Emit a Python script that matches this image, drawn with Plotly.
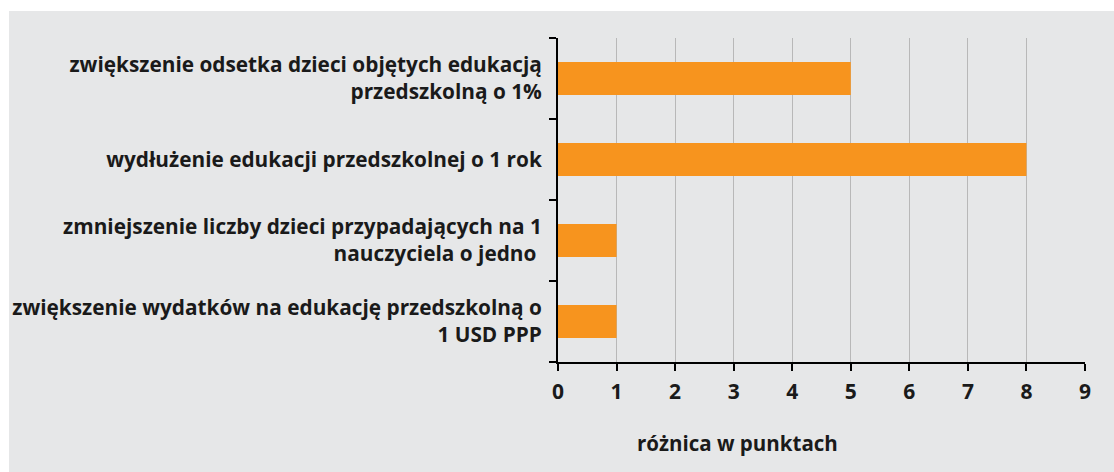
import plotly.graph_objects as go

# Effect of each pre-school measure, in points
categories = [
    "zwiększenie odsetka dzieci objętych edukacją<br>przedszkolną o 1%",
    "wydłużenie edukacji przedszkolnej o 1 rok",
    "zmniejszenie liczby dzieci przypadających na 1<br>nauczyciela o jedno ",
    "zwiększenie wydatków na edukację przedszkolną o<br>1 USD PPP",
]
values = [5, 8, 1, 1]
x_ticks = list(range(0, 10))
x_title = "różnica w punktach"

BG = "#e6e7e8"
ORANGE = "#f7941e"
FONT = "Open Sans"
TEXT = "#1a1a1a"

W, H = 1114, 472
ML, MR, MT, MB = 558, 29, 38, 110
PW, PH = W - ML - MR, H - MT - MB

fig = go.Figure(
    go.Bar(
        x=values,
        y=categories,
        orientation="h",
        marker=dict(color=ORANGE, line=dict(width=0)),
        width=0.41,
    )
)

# grey panel behind the chart, leaving a thin white strip at top and left
fig.add_shape(
    type="rect", xref="paper", yref="paper",
    x0=(9 - ML) / PW, x1=2, y0=-1, y1=1 + (MT - 11) / PH,
    fillcolor=BG, line=dict(width=0), layer="below",
)

fig.add_annotation(
    text=x_title, xref="paper", yref="paper",
    x=(737.5 - ML) / PW, y=-(443 - (H - MB)) / PH,
    showarrow=False, xanchor="center", yanchor="middle",
    font=dict(family=FONT, size=20.5, color=TEXT, weight="bold"),
)

fig.update_layout(
    width=W, height=H,
    margin=dict(l=ML, r=MR, t=MT, b=MB, pad=0),
    paper_bgcolor="white",
    plot_bgcolor=BG,
    showlegend=False,
    font=dict(family=FONT, color=TEXT),
    bargap=0.59,
)

fig.update_xaxes(
    range=[0, 9],
    tickvals=x_ticks,
    showgrid=True, gridcolor="#b8b8b8", gridwidth=1,
    showline=True, linecolor="black", linewidth=2,
    ticks="outside", ticklen=7, tickwidth=2, tickcolor="black",
    tickfont=dict(family=FONT, size=21, color=TEXT, weight="bold"),
    ticklabelstandoff=3,
    zeroline=False,
    fixedrange=True,
)

fig.update_yaxes(
    type="category",
    categoryorder="array",
    categoryarray=categories[::-1],
    showgrid=False,
    showline=True, linecolor="black", linewidth=2,
    ticks="outside", ticklen=7, tickwidth=2, tickcolor="black",
    tickson="boundaries",
    tickfont=dict(family=FONT, size=20.8, color=TEXT, weight="bold"),
    ticklabelstandoff=10,
    fixedrange=True,
)

fig.write_html("out.html")
